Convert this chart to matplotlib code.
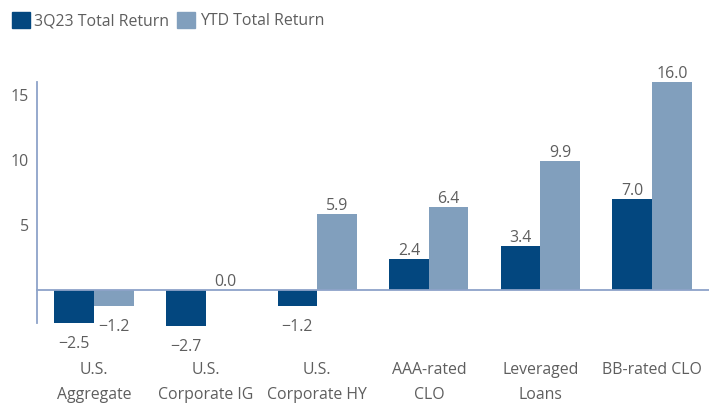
import numpy as np
import matplotlib.pyplot as plt
from matplotlib.patches import Patch
from matplotlib.transforms import blended_transform_factory

# data
categories = ["U.S.\nAggregate", "U.S.\nCorporate IG", "U.S.\nCorporate HY",
              "AAA-rated\nCLO", "Leveraged\nLoans", "BB-rated CLO"]
q3_return = [-2.5, -2.7, -1.2, 2.4, 3.4, 7.0]
ytd_return = [-1.2, 0.0, 5.9, 6.4, 9.9, 16.0]
series_names = ["3Q23 Total Return", "YTD Total Return"]
yticks = [5, 10, 15]

dark = "#03477f"
light = "#819fbd"
txt = "#5e5e5e"
axcol = "#8ea3c9"

fs = 11.4
plt.rcParams['font.family'] = ['Open Sans', 'DejaVu Sans']
plt.rcParams['font.size'] = fs

fig = plt.figure(figsize=(7.09, 4.03), dpi=100)
W, H = 709, 403
ax = fig.add_axes([37 / W, (H - 323) / H, (W - 37) / W, 241 / H])

x = np.arange(len(categories))
w = 0.355
b1 = ax.bar(x - w / 2, q3_return, w, color=dark, clip_on=False, zorder=2)
b2 = ax.bar(x + w / 2, ytd_return, w, color=light, clip_on=False, zorder=2)

ax.set_xlim(-0.51, 5.51)
ax.set_ylim(-2.5, 16.0)

for bars, vals in [(b1, q3_return), (b2, ytd_return)]:
    for r, v in zip(bars, vals):
        cx = r.get_x() + r.get_width() / 2
        lab = f"{v:.1f}".replace("-", "\u2212")
        if v >= 0:
            ax.annotate(lab, (cx, v), xytext=(0, 0), textcoords='offset pixels',
                        ha='center', va='bottom', color=txt, annotation_clip=False)
        else:
            ax.annotate(lab, (cx, v), xytext=(0, -13), textcoords='offset pixels',
                        ha='center', va='top', color=txt, annotation_clip=False)

ax.axhline(0, color=axcol, lw=1.3, zorder=3, clip_on=False)
for s in ['top', 'right', 'bottom']:
    ax.spines[s].set_visible(False)
ax.spines['left'].set_color(axcol)
ax.spines['left'].set_linewidth(1.3)

ax.set_yticks(yticks)
ax.tick_params(axis='y', length=0, pad=6, colors=txt, labelsize=fs)
ax.set_xticks([])

# category labels sit well below the axis
trans = blended_transform_factory(ax.transData, fig.transFigure)
for xi, c in zip(x, categories):
    ax.text(xi, 1 - 362 / H, c, transform=trans, ha='center', va='top',
            color=txt, linespacing=1.75, clip_on=False)

handles = [Patch(color=dark), Patch(color=light)]
fig.legend(handles, series_names, loc='upper left', bbox_to_anchor=(6 / W, 1 - 6 / H),
           ncol=2, frameon=False, handlelength=1.1, handleheight=1.1,
           handletextpad=0.3, columnspacing=0.5, labelcolor=txt, fontsize=fs,
           borderaxespad=0)

fig.savefig("out.png", dpi=100)
